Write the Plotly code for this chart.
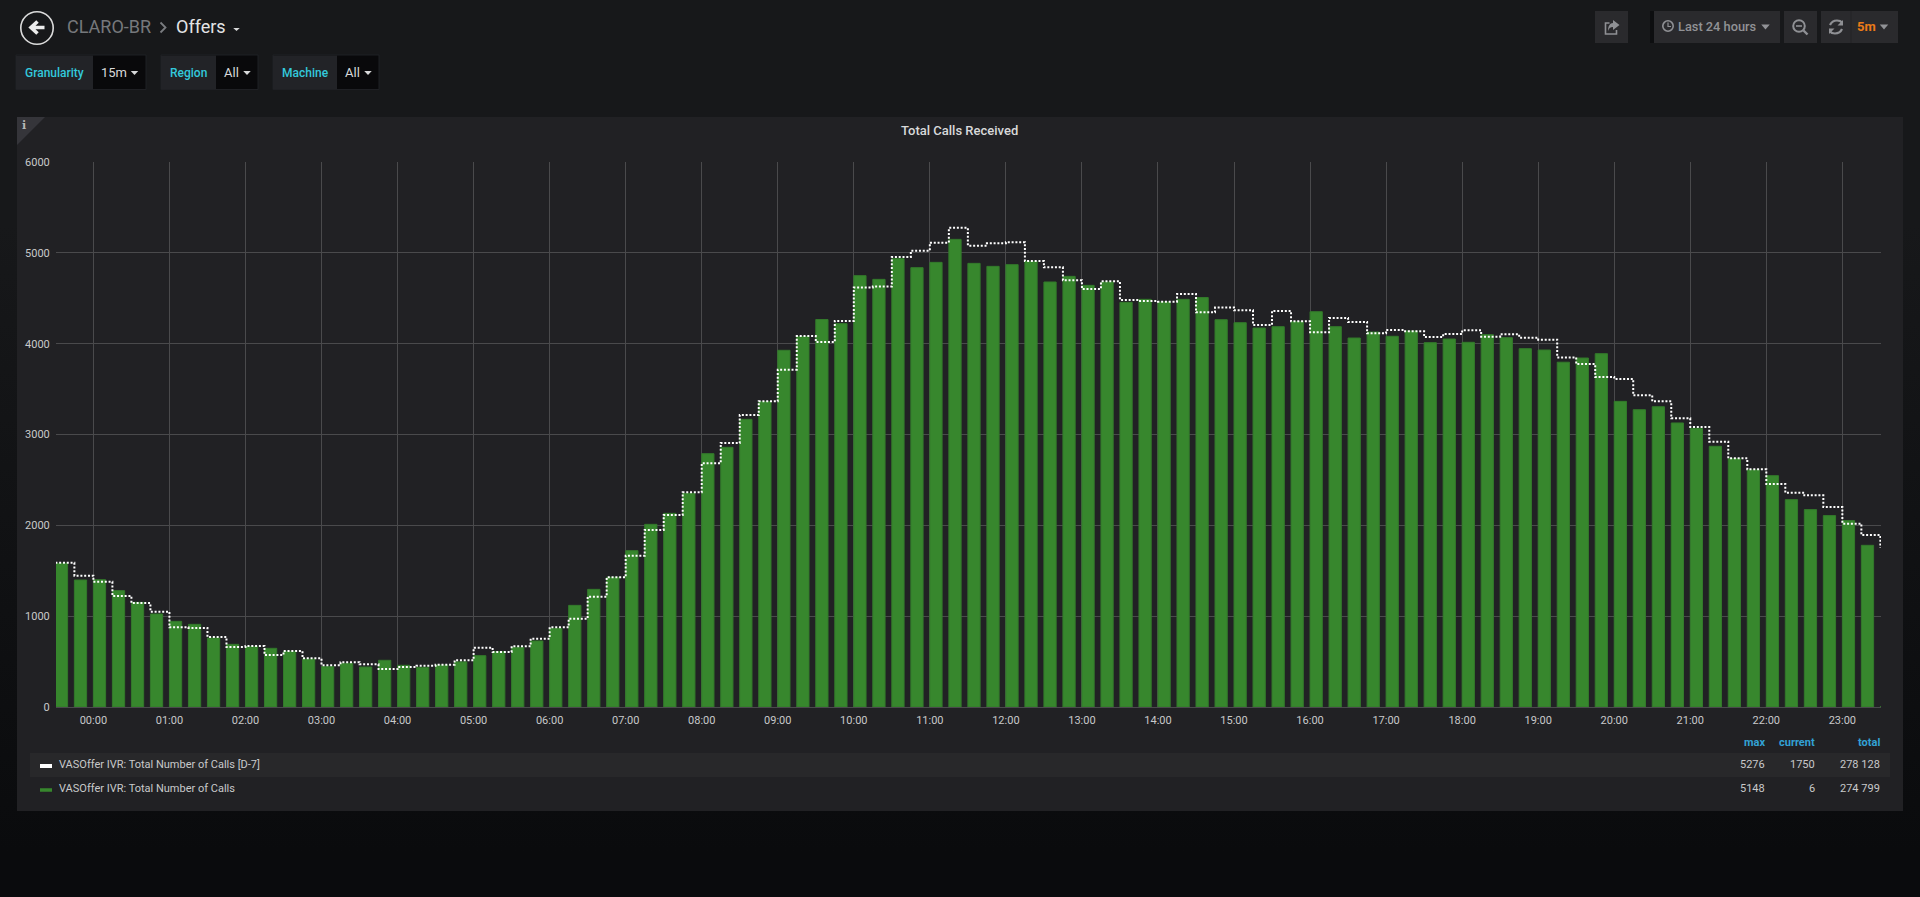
import re
from datetime import datetime, timedelta
import plotly.graph_objects as go

calls_d7 = [1589,1446,1380,1222,1145,1050,877,870,771,661,672,572,617,536,459,492,470,418,440,455,466,514,
            653,606,668,752,877,972,1215,1428,1666,1949,2114,2363,2683,2906,3215,3365,3714,4084,4018,4250,
            4617,4628,4954,5024,5112,5276,5079,5105,5116,4910,4840,4697,4602,4686,4481,4470,4462,4547,4345,4398,
            4367,4205,4360,4246,4125,4283,4239,4114,4150,4136,4073,4106,4147,4077,4103,4066,4044,3848,3776,3633,
            3611,3431,3365,3178,3083,2921,2738,2617,2455,2360,2330,2202,2018,1893,1750]
calls = [1582,1398,1402,1281,1152,1024,943,910,760,690,664,646,613,528,444,481,440,514,459,437,462,497,
         565,609,657,727,866,1119,1295,1428,1721,2011,2132,2352,2789,2859,3167,3361,3927,4077,4266,4220,
         4749,4708,4936,4837,4895,5148,4884,4851,4870,4906,4679,4741,4642,4679,4455,4488,4459,4488,4508,4264,
         4231,4172,4187,4242,4352,4187,4062,4128,4081,4139,4011,4051,4015,4099,4066,3945,3930,3796,3842,3890,
         3365,3273,3306,3127,3068,2870,2734,2610,2547,2283,2173,2107,2052,1780,6]
hour_labels = ["%02d:00" % h for h in range(24)]
legend_names = ["VASOffer IVR: Total Number of Calls [D-7]", "VASOffer IVR: Total Number of Calls"]
legend_max = ["5276", "5148"]
legend_current = ["1750", "6"]
legend_total = ["278 128", "274 799"]

start = datetime(2019, 3, 10, 23, 30)
times = [start + timedelta(minutes=15 * i) for i in range(len(calls))]
range_start = start + timedelta(seconds=30)
t_end = range_start + timedelta(hours=24)

L, R, T, B = 56.0, 1881.0, 162.0, 707.0
W, H = 1920, 897
def px(x): return (x - L) / (R - L)
def py(y): return (B - y) / (B - T)
def path(s):
    out, nums = [], []
    for tok in re.findall(r"[A-Za-z]|-?[\d.]+", s):
        if tok.isalpha():
            out.append(tok)
        else:
            nums.append(float(tok))
            if len(nums) == 2:
                out.append("%.6f,%.6f" % (px(nums[0]), py(nums[1])))
                nums = []
    return " ".join(out)

shapes, notes = [], []
def rect(x0, y0, x1, y1, fill, line=None, lw=0):
    shapes.append(dict(type="rect", xref="paper", yref="paper", x0=px(x0), x1=px(x1), y0=py(y0), y1=py(y1),
                       fillcolor=fill, line=dict(color=line or fill, width=lw), layer="below"))
def pth(s, fill=None, line=None, lw=0):
    shapes.append(dict(type="path", xref="paper", yref="paper", path=path(s),
                       fillcolor=fill or "rgba(0,0,0,0)", line=dict(color=line or "rgba(0,0,0,0)", width=lw), layer="below"))
def circ(cx, cy, r, line, lw, fill="rgba(0,0,0,0)"):
    shapes.append(dict(type="circle", xref="paper", yref="paper", x0=px(cx - r), x1=px(cx + r), y0=py(cy - r), y1=py(cy + r),
                       fillcolor=fill, line=dict(color=line, width=lw), layer="below"))
def text(x, y, s, color, size, anchor="left", weight=400, family="Roboto"):
    notes.append(dict(xref="paper", yref="paper", x=px(x), y=py(y), text=s, showarrow=False, xanchor=anchor, yanchor="middle",
                      font=dict(color=color, size=size, family=family, weight=weight), borderpad=0, borderwidth=0))
def caret(cx, cy, w, h, color):
    pth(f"M{cx-w/2} {cy} L{cx+w/2} {cy} L{cx} {cy+h} Z", fill=color)

# panel
rect(17, 117, 1903, 811, "#212124")
pth("M17 117 L45 117 L17 145 Z", fill="#35353a")
text(24.5, 125, "i", "#b8b8b8", 11, "center", 700, "DejaVu Serif")
text(959, 131, "Total Calls Received", "#d8d9da", 13, "center", 500)

# header
circ(37, 28, 16.2, "#dcdcdc", 1.6)
pth("M44.5 27.5 L32 27.5 M37.5 21.5 L31 27.5 L37.5 33.5", line="#ececec", lw=3.6)
text(67, 26.5, "CLARO-BR", "#76787c", 18)
pth("M160.5 22.5 L165.5 27.5 L160.5 32.5", line="#7a7c80", lw=1.8)
text(176, 26.5, "Offers", "#e3e4e6", 18)
caret(236.5, 28, 6.5, 3, "#d8d9da")

# template variables
for x0, xm, x1, label, lx, val, vx, cx in [(16, 93, 146, "Granularity", 54, "15m", 101, 134.5),
                                            (161, 216, 258, "Region", 188.5, "All", 224, 247),
                                            (273, 337, 379, "Machine", 305, "All", 345, 368)]:
    rect(x0, 55, x1, 89.5, "#09090b", "#1f2024", 1)
    rect(x0, 55.5, xm, 89, "#222327")
    text(lx, 73, label, "#33c9dc", 12, "center", 500)
    text(vx, 72.5, val, "#d8d9da", 13)
    caret(cx, 71, 7.5, 4, "#d8d9da")

# top-right toolbar
rect(1595, 11, 1628, 43, "#2a2a2d")
pth("M1616.5 30 L1616.5 34 L1605.5 34 L1605.5 23 L1609.5 23", line="#8f9094", lw=1.6)
pth("M1613 20 L1619.5 25 L1613 30 L1613 27 C1610 27 1609 28.5 1608 31 C1608 26 1610 23 1613 23 Z", fill="#8f9094")
rect(1650, 11, 1654, 43, "#0d0e10")
rect(1654, 11, 1780, 43, "#2a2a2d")
circ(1668, 26, 5.2, "#8f9094", 1.6)
pth("M1668 22.5 L1668 26.5 L1671 26.5", line="#8f9094", lw=1.2)
text(1678, 27, "Last 24 hours", "#919296", 12.8, "left", 500)
caret(1765.5, 24.5, 8.5, 5, "#919296")
rect(1784, 11, 1817, 43, "#2a2a2d")
circ(1799, 26, 5.8, "#8f9094", 2)
pth("M1796 26 L1802 26", line="#8f9094", lw=1.6)
pth("M1803.5 30.5 L1807.5 34.5", line="#8f9094", lw=2.4)
rect(1821, 11, 1898, 43, "#2a2a2d")
pth("M1851 11 L1851 43", line="#232326", lw=1)
pth("M1830 25 Q1832 20.5 1837 20.5 Q1840.5 20.5 1842 22.5", line="#8f9094", lw=2.2)
pth("M1843 20 L1843 25.5 L1837.5 25.5 Z", fill="#8f9094")
pth("M1842 29 Q1840 33.5 1835 33.5 Q1831.5 33.5 1830 31.5", line="#8f9094", lw=2.2)
pth("M1829 34 L1829 28.5 L1834.5 28.5 Z", fill="#8f9094")
text(1857, 27, "5m", "#eb7b18", 13, "left", 700)
caret(1884, 24.5, 8.5, 5, "#919296")

# legend table
rect(30, 753, 1890, 777, "#28282a")
shapes.append(dict(type="line", xref="paper", yref="paper", x0=px(40), x1=px(52), y0=py(766), y1=py(766),
                   line=dict(color="#ffffff", width=4), layer="above"))
shapes.append(dict(type="line", xref="paper", yref="paper", x0=px(40), x1=px(52), y0=py(790), y1=py(790),
                   line=dict(color="#37872d", width=3.5), layer="above"))
for x, lab in [(1765, "max"), (1815, "current"), (1880, "total")]:
    text(x, 742, lab, "#33a2d5", 11, "right", 700)
for i, y in enumerate([764, 788]):
    text(59, y, legend_names[i], "#c8c9ca", 11)
    text(1765, y, legend_max[i], "#c8c9ca", 11, "right")
    text(1815, y, legend_current[i], "#c8c9ca", 11, "right")
    text(1880, y, legend_total[i], "#c8c9ca", 11, "right")

bar_ms = 580000
fig = go.Figure()
fig.add_trace(go.Bar(x=times, y=calls, name=legend_names[1], width=bar_ms, offset=0,
                     marker=dict(color="#37872d", line=dict(color="#33792b", width=1))))
fig.add_trace(go.Scatter(x=times, y=calls_d7, name=legend_names[0], mode="lines",
                         line=dict(color="#ffffff", width=2, dash="2px,1.8px", shape="hv")))
tick_vals = [start + timedelta(minutes=30) + timedelta(hours=h) for h in range(24)]
fig.update_layout(
    width=W, height=H, showlegend=False, hovermode=False,
    margin=dict(l=L, r=W - R, t=T, b=H - B, pad=0),
    paper_bgcolor="rgba(0,0,0,0)", plot_bgcolor="#212124",
    font=dict(family="Roboto", size=11, color="#c8c9ca"),
    shapes=shapes, annotations=notes,
    xaxis=dict(type="date", range=[range_start, t_end], tickmode="array", tickvals=tick_vals, ticktext=hour_labels,
               showgrid=True, gridcolor="#4a4a4c", gridwidth=1, ticks="outside", ticklen=3, tickcolor="rgba(0,0,0,0)",
               showline=True, linecolor="#4a4a4c", linewidth=1, zeroline=False, tickfont=dict(size=11, color="#c8c9ca")),
    yaxis=dict(range=[0, 6000], tickvals=[0, 1000, 2000, 3000, 4000, 5000, 6000], showgrid=True, gridcolor="#4a4a4c", gridwidth=1,
               ticks="outside", ticklen=3, tickcolor="rgba(0,0,0,0)", zeroline=False, tickformat="d",
               tickfont=dict(size=11, color="#c8c9ca")),
)
post = ("document.documentElement.style.overflow='hidden';document.body.style.margin='0';"
        "document.body.style.background='linear-gradient(to bottom,#17181a 0,#17181a 25%,#0a0b0d 95%)';"
        "document.body.style.minHeight='100vh';")
fig.write_html("out.html", post_script=post, config=dict(displayModeBar=False))
